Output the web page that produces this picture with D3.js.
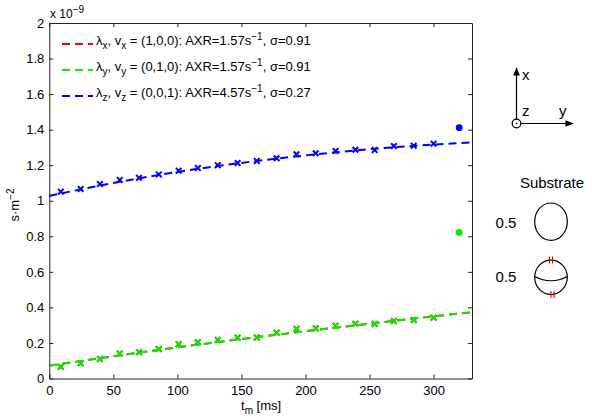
<!DOCTYPE html>
<html>
<head>
<meta charset="utf-8">
<script src="https://cdn.jsdelivr.net/npm/d3@7"></script>
<style>
  body { margin: 0; background: #fff; }
  text { font-family: 'Liberation Sans', Arial, sans-serif; fill: #000; }
</style>
</head>
<body>
<div id="chart"></div>
<script>
// mixing times (ms) of the measured points
const tm = [9, 24.5, 39.5, 55, 70, 85.5, 101, 116, 131.5, 147, 162, 177.5, 193, 208, 223.5, 239, 254, 269, 284.5, 300]
// measured values (x 1e-9)
const valX = [0.066, 0.086, 0.110, 0.140, 0.148, 0.166, 0.193, 0.204, 0.217, 0.230, 0.231, 0.258, 0.279, 0.282, 0.297, 0.308, 0.307, 0.323, 0.329, 0.342]
const valY = [0.066, 0.086, 0.110, 0.140, 0.148, 0.166, 0.193, 0.204, 0.217, 0.230, 0.231, 0.258, 0.279, 0.282, 0.297, 0.308, 0.307, 0.323, 0.329, 0.342]
const valZ = [1.051, 1.066, 1.094, 1.117, 1.129, 1.148, 1.169, 1.184, 1.200, 1.212, 1.224, 1.239, 1.261, 1.267, 1.280, 1.287, 1.285, 1.308, 1.310, 1.321]
// fitted curves read at these times
const fitT = [0, 50, 100, 150, 200, 250, 300, 330]
const fitX = [0.072, 0.125, 0.175, 0.222, 0.266, 0.308, 0.350, 0.373]
const fitY = [0.072, 0.125, 0.175, 0.222, 0.266, 0.308, 0.350, 0.373]
const fitZ = [1.027, 1.100, 1.162, 1.213, 1.255, 1.290, 1.316, 1.328]
// single points at long time
const dotT = 320
const dotY = 0.822
const dotZ = 1.411

const xTicks = [0, 50, 100, 150, 200, 250, 300]
const yTicks = [0, 0.2, 0.4, 0.6, 0.8, 1, 1.2, 1.4, 1.6, 1.8, 2]

const series = [
  { name: 'x', col: '#ff0000', vals: valX, fit: fitX, label: ['(1,0,0): AXR=1.57s', '0.91'] },
  { name: 'y', col: '#00ee00', vals: valY, fit: fitY, label: ['(0,1,0): AXR=1.57s', '0.91'] },
  { name: 'z', col: '#0000ff', vals: valZ, fit: fitZ, label: ['(0,0,1): AXR=4.57s', '0.27'] }
]

const W = 592
const H = 420
const margin = { top: 23, right: 120, bottom: 41.5, left: 49.3 }
const width = W - margin.left - margin.right
const height = H - margin.top - margin.bottom

const root = d3.select('#chart')
  .append('svg')
  .attr('width', W)
  .attr('height', H)

const svg = root.append('g')
  .attr('transform', `translate(${margin.left}, ${margin.top})`)

const x = d3.scaleLinear().domain([0, 330]).range([0, width])
const y = d3.scaleLinear().domain([0, 2]).range([height, 0])

// axes with inward ticks (matlab style)
function styleAxis (g) {
  g.selectAll('path, line').attr('stroke', '#222').attr('stroke-width', 1)
  g.selectAll('text').style('font-size', '13px').attr('fill', '#000')
}
svg.append('g')
  .attr('transform', `translate(0, ${height})`)
  .call(d3.axisBottom(x).tickValues(xTicks).tickSizeInner(-4).tickSizeOuter(0).tickPadding(7))
  .call(styleAxis)
svg.append('g')
  .call(d3.axisTop(x).tickValues(xTicks).tickSizeInner(-4).tickSizeOuter(0).tickFormat(''))
  .call(styleAxis)
svg.append('g')
  .call(d3.axisLeft(y).tickValues(yTicks).tickSizeInner(-4).tickSizeOuter(0).tickPadding(5).tickFormat(d3.format('~g')))
  .call(styleAxis)
svg.append('g')
  .attr('transform', `translate(${width}, 0)`)
  .call(d3.axisRight(y).tickValues(yTicks).tickSizeInner(-4).tickSizeOuter(0).tickFormat(''))
  .call(styleAxis)
svg.selectAll('.domain').attr('fill', 'none')

// fitted dashed lines
const line = d3.line()
  .x(function (d, i) { return x(fitT[i]) })
  .y(function (d) { return y(d) })
  .curve(d3.curveMonotoneX)

series.forEach(function (s) {
  svg.append('path')
    .datum(s.fit)
    .attr('d', line)
    .attr('fill', 'none')
    .attr('stroke', s.col)
    .attr('stroke-width', 2)
    .attr('stroke-dasharray', '8,5')

  svg.append('g')
    .selectAll('path')
    .data(s.vals)
    .join('path')
    .attr('transform', function (d, i) { return `translate(${x(tm[i])}, ${y(d)})` })
    .attr('d', 'M-2.8,-2.8L2.8,2.8M-2.8,2.8L2.8,-2.8')
    .attr('stroke', s.col)
    .attr('stroke-width', 2)
    .attr('fill', 'none')
})

svg.append('circle').attr('cx', x(dotT)).attr('cy', y(dotY)).attr('r', 3.4).attr('fill', '#00ee00')
svg.append('circle').attr('cx', x(dotT)).attr('cy', y(dotZ)).attr('r', 3.4).attr('fill', '#0000ff')

// legend
const legend = root.append('g')
series.forEach(function (s, i) {
  const ly = 44 + i * 26
  legend.append('line')
    .attr('x1', 62).attr('x2', 93)
    .attr('y1', ly).attr('y2', ly)
    .attr('stroke', s.col)
    .attr('stroke-width', 2)
    .attr('stroke-dasharray', '8,5')
  const t = legend.append('text')
    .attr('x', 96)
    .attr('y', ly + 1)
    .style('font-size', '13px')
  t.append('tspan').text('λ')
  t.append('tspan').attr('dy', 4).style('font-size', '10px').text(s.name)
  t.append('tspan').attr('dy', -4).text(', v')
  t.append('tspan').attr('dy', 4).style('font-size', '10px').text(s.name)
  t.append('tspan').attr('dy', -4).text(' = ' + s.label[0])
  t.append('tspan').attr('dy', -5).style('font-size', '10px').text('−1')
  t.append('tspan').attr('dy', 5).text(', σ=' + s.label[1])
})

// exponent and axis labels
const ex = root.append('text').attr('x', 50).attr('y', 18).style('font-size', '12px')
ex.append('tspan').text('x 10')
ex.append('tspan').attr('dy', -5).style('font-size', '10px').text('−9')

const yl = root.append('text')
  .attr('transform', 'translate(18.5, 205) rotate(-90)')
  .attr('text-anchor', 'middle')
  .style('font-size', '13px')
yl.append('tspan').text('s·m')
yl.append('tspan').attr('dy', -5).style('font-size', '10px').text('−2')

const xl = root.append('text')
  .attr('x', 241)
  .attr('y', 410)
  .style('font-size', '13px')
xl.append('tspan').text('t')
xl.append('tspan').attr('dy', 3.5).style('font-size', '10px').text('m')
xl.append('tspan').attr('dy', -3.5).text(' [ms]')

// coordinate frame glyph
const frame = root.append('g')
frame.append('defs').append('marker')
  .attr('id', 'arr')
  .attr('viewBox', '0 0 10 10')
  .attr('refX', 9).attr('refY', 5)
  .attr('markerWidth', 7).attr('markerHeight', 7)
  .attr('orient', 'auto')
  .append('path').attr('d', 'M0,1L10,5L0,9Z').attr('fill', '#000')
frame.append('line').attr('x1', 516.5).attr('y1', 123.5).attr('x2', 516.5).attr('y2', 68)
  .attr('stroke', '#000').attr('stroke-width', 1.2).attr('marker-end', 'url(#arr)')
frame.append('line').attr('x1', 516.5).attr('y1', 123.5).attr('x2', 573).attr('y2', 123.5)
  .attr('stroke', '#000').attr('stroke-width', 1.2).attr('marker-end', 'url(#arr)')
frame.append('circle').attr('cx', 516.5).attr('cy', 123.5).attr('r', 4.3)
  .attr('fill', '#fff').attr('stroke', '#000').attr('stroke-width', 1.2)
frame.append('circle').attr('cx', 516.5).attr('cy', 123.5).attr('r', 0.8).attr('fill', '#000')
frame.append('text').attr('x', 522).attr('y', 80).style('font-size', '15px').text('x')
frame.append('text').attr('x', 522).attr('y', 116).style('font-size', '15px').text('z')
frame.append('text').attr('x', 559).attr('y', 116).style('font-size', '15px').text('y')

// substrate shapes
const sub = root.append('g')
sub.append('text').attr('x', 552).attr('y', 188).attr('text-anchor', 'middle').style('font-size', '15px').text('Substrate')
sub.append('text').attr('x', 506).attr('y', 228).attr('text-anchor', 'middle').style('font-size', '15px').text('0.5')
sub.append('text').attr('x', 506).attr('y', 282).attr('text-anchor', 'middle').style('font-size', '15px').text('0.5')
sub.append('ellipse').attr('cx', 551).attr('cy', 221.7).attr('rx', 16.3).attr('ry', 18.7)
  .attr('fill', 'none').attr('stroke', '#000').attr('stroke-width', 1.2)
sub.append('ellipse').attr('cx', 551).attr('cy', 277.3).attr('rx', 16.3).attr('ry', 17.2)
  .attr('fill', 'none').attr('stroke', '#000').attr('stroke-width', 1.2)
sub.append('path').attr('d', 'M534.7,276.5Q551,285 567.3,276.5')
  .attr('fill', 'none').attr('stroke', '#000').attr('stroke-width', 1.2)
;[[551, 260], [552.5, 294.5]].forEach(function (p) {
  [-1.6, 1.6].forEach(function (dx) {
    sub.append('line')
      .attr('x1', p[0] + dx).attr('x2', p[0] + dx)
      .attr('y1', p[1] - 3.5).attr('y2', p[1] + 3.5)
      .attr('stroke', '#dd0000').attr('stroke-width', 1.1)
  })
})
</script>
</body>
</html>
